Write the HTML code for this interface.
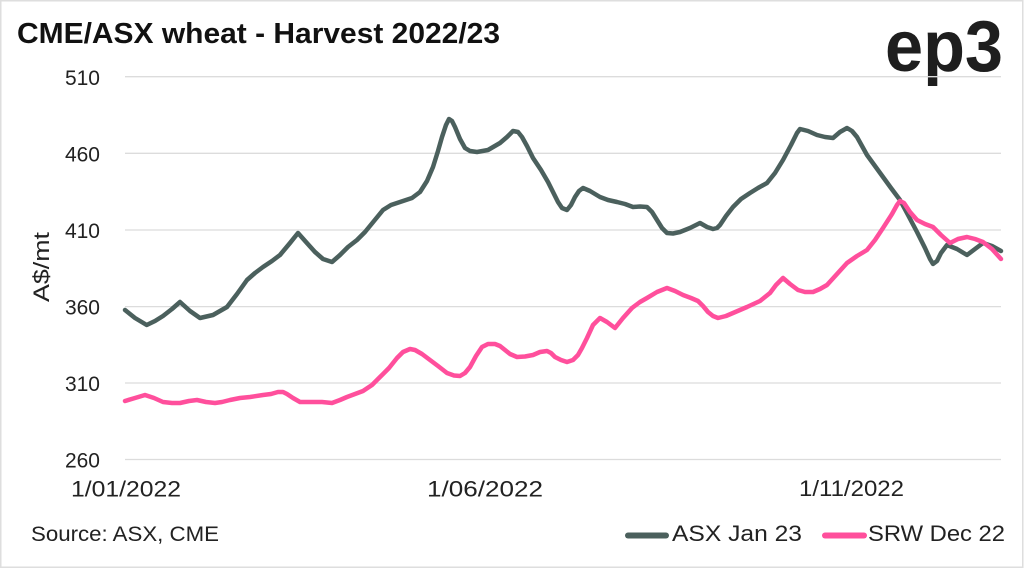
<!DOCTYPE html>
<html><head><meta charset="utf-8"><style>
html,body{margin:0;padding:0;background:#fff;}
svg{display:block;}
text{font-family:"Liberation Sans",sans-serif;}
</style></head><body>
<svg width="1024" height="569" viewBox="0 0 1024 569" xmlns="http://www.w3.org/2000/svg">
<rect x="0" y="0" width="1024" height="569" fill="#fff"/>
<rect x="0.75" y="0.75" width="1022" height="566.5" fill="none" stroke="#dedede" stroke-width="1.5"/>
<text x="17" y="43" font-size="29" font-weight="bold" fill="#111" textLength="483" lengthAdjust="spacingAndGlyphs">CME/ASX wheat - Harvest 2022/23</text>
<text x="885" y="71" font-size="72" font-weight="bold" fill="#1e1e1e" textLength="118" lengthAdjust="spacingAndGlyphs">ep3</text>
<g stroke="#dcdcdc" stroke-width="1.3">
<line x1="125" y1="76.7" x2="1001" y2="76.7"/>
<line x1="125" y1="153.3" x2="1001" y2="153.3"/>
<line x1="125" y1="230" x2="1001" y2="230"/>
<line x1="125" y1="306.6" x2="1001" y2="306.6"/>
<line x1="125" y1="383" x2="1001" y2="383"/>
<line x1="125" y1="459.5" x2="1001" y2="459.5"/>
</g>
<g font-size="21" fill="#222" text-anchor="end">
<text x="100" y="85">510</text>
<text x="100" y="161.5">460</text>
<text x="100" y="238">410</text>
<text x="100" y="314.5">360</text>
<text x="100" y="391">310</text>
<text x="100" y="467.5">260</text>
</g>
<text transform="translate(49,267) rotate(-90)" font-size="22" fill="#222" text-anchor="middle" textLength="70" lengthAdjust="spacingAndGlyphs">A$/mt</text>
<g font-size="22" fill="#222">
<text x="71" y="496.5" textLength="110" lengthAdjust="spacingAndGlyphs">1/01/2022</text>
<text x="427" y="496.5" textLength="116" lengthAdjust="spacingAndGlyphs">1/06/2022</text>
<text x="799" y="496" textLength="105" lengthAdjust="spacingAndGlyphs">1/11/2022</text>
</g>
<text x="31" y="541" font-size="21" fill="#222" textLength="188" lengthAdjust="spacingAndGlyphs">Source: ASX, CME</text>
<line x1="628" y1="535.5" x2="666" y2="535.5" stroke="#4b605d" stroke-width="6" stroke-linecap="round"/>
<text x="672" y="541" font-size="22" fill="#222" textLength="130" lengthAdjust="spacingAndGlyphs">ASX Jan 23</text>
<line x1="825" y1="535.5" x2="864" y2="535.5" stroke="#ff4f9c" stroke-width="6" stroke-linecap="round"/>
<text x="868" y="541" font-size="22" fill="#222" textLength="137" lengthAdjust="spacingAndGlyphs">SRW Dec 22</text>
<g fill="none" stroke-width="4.5" stroke-linejoin="round" stroke-linecap="round">
<polyline stroke="#4b605d" points="125,310 135,318 146.7,325 155,321 163,316 172,309 180,302 190,311 200,318 213,315 227,307 237,294 247,280 255,273 263,267 272,261 280,255 290,243 298,233 306,242 315,252 323,259 332,262 340,255 348,247 357,240 365,232 374,221 383,210 391,205 400,202 412,198 420,192 427,181 433,167 438,151 442,137 446,125 449,119 452,121 455,127 460,139 465,148 470,151 477,152 488,150 500,143 507,137 513,131 518,132 522,137 527,146 533,158 541,170 548,182 553,192 558,202 562,208 567,210 571,205 575,197 579,191 583,188 590,191 600,197 608,200 617,202 625,204 633,207 640,206.5 647,207 652,212 657,220 662,228 667,233 673,233.5 680,232 690,228 700,223 707,227 713,229 717,228 720,225 726,216 733,207 741,199 750,193 758,188 767,183 775,173 783,160 791,145 797,133 800,129 808,131 817,135 825,137 833,138 840,132 847,128 852,131 857,137 862,146 867,155 875,166 883,177 891,188 900,200 908,215 917,232 925,248 930,259 933,264 937,261 941,253 947,245 957,249 967,255 975,249 983,243 992,246 1001,251"/>
<polyline stroke="#ff4f9c" points="125,401 135,398 145,395 154,398 163,402 172,403 180,403 189,401 197,400 206,402 215,403 222,402 230,400 240,398 250,397 263,395 271,394 278,392 283,392 287,394 293,398 300,402 313,402 322,402 332,403 340,400 347,397 355,394 363,391 372,385 380,377 389,368 397,358 403,352 410,349 415,350 422,354 430,360 438,366 447,373 454,375.5 460,376 465,373 470,367 476,356 482,347 488,344 495,344 500,346 505,350 510,354 517,357 525,356.5 533,355 540,352 547,351 551,353 555,357 561,360 567,362 573,360 578,355 582,348 587,338 593,325 600,318 607,322 615,328 623,318 632,308 640,302 647,298 657,292 667,288 675,291 683,295 691,298 698,301 703,306 708,312 713,316 718,318 726,316 733,313 747,307 760,301 765,297 770,293 776,285 783,278 790,284 798,290 805,292 813,292 820,289 827,285 837,274 847,263 857,256 867,250 875,240 883,228 892,214 897,205 900,201 904,203 910,212 917,220 925,224 933,227 941,235 950,243 958,239 967,237 975,239 983,242 992,249 1001,259"/>
</g>
</svg>
</body></html>
